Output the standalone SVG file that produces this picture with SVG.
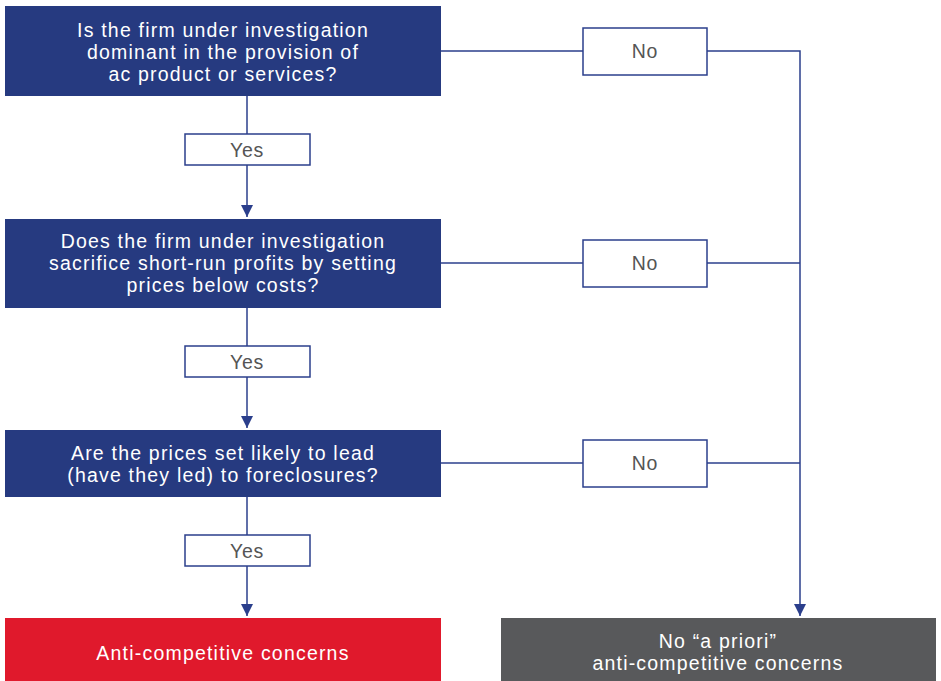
<svg xmlns="http://www.w3.org/2000/svg" width="941" height="681" viewBox="0 0 941 681">
  <defs>
    <marker id="arrow" viewBox="0 0 10 10" refX="10" refY="5" markerWidth="12" markerHeight="12" markerUnits="userSpaceOnUse" orient="auto">
      <path d="M0,0 L10,5 L0,10 z" fill="#2b3f8c"/>
    </marker>
    <style>
      .q { fill: #263a80; }
      .qt { fill: #ffffff; font-family: "Liberation Sans", Arial, sans-serif; font-size: 19.5px; letter-spacing: 1.2px; text-anchor: middle; }
      .lab { fill: #ffffff; stroke: #2b3f8c; stroke-width: 1.5; }
      .labt { fill: #555555; font-family: "Liberation Sans", Arial, sans-serif; font-size: 19.5px; letter-spacing: 0.8px; text-anchor: middle; }
      .ln { fill: none; stroke: #2b3f8c; stroke-width: 1.5; }
    </style>
  </defs>
  <rect width="941" height="681" fill="#ffffff"/>

  <g id="connectors">
    <line class="ln" x1="247" y1="96" x2="247" y2="217" marker-end="url(#arrow)"/>
    <line class="ln" x1="247" y1="308" x2="247" y2="428" marker-end="url(#arrow)"/>
    <line class="ln" x1="247" y1="497" x2="247" y2="616" marker-end="url(#arrow)"/>
    <polyline class="ln" points="441,51 800,51 800,616" marker-end="url(#arrow)"/>
    <line class="ln" x1="441" y1="263" x2="800" y2="263"/>
    <line class="ln" x1="441" y1="463" x2="800" y2="463"/>
  </g>

  <g id="q1">
    <rect class="q" x="5" y="6" width="436" height="90"/>
    <text class="qt" x="223" y="37">Is the firm under investigation</text>
    <text class="qt" x="223" y="59">dominant in the provision of</text>
    <text class="qt" x="223" y="81">ac product or services?</text>
  </g>
  <g id="q2">
    <rect class="q" x="5" y="219" width="436" height="89"/>
    <text class="qt" x="223" y="248">Does the firm under investigation</text>
    <text class="qt" x="223" y="270">sacrifice short-run profits by setting</text>
    <text class="qt" x="223" y="292">prices below costs?</text>
  </g>
  <g id="q3">
    <rect class="q" x="5" y="430" width="436" height="67"/>
    <text class="qt" x="223" y="460">Are the prices set likely to lead</text>
    <text class="qt" x="223" y="482">(have they led) to foreclosures?</text>
  </g>

  <g id="yes1">
    <rect class="lab" x="185" y="134" width="125" height="31"/>
    <text class="labt" x="247" y="157">Yes</text>
  </g>
  <g id="yes2">
    <rect class="lab" x="185" y="346" width="125" height="31"/>
    <text class="labt" x="247" y="369">Yes</text>
  </g>
  <g id="yes3">
    <rect class="lab" x="185" y="535" width="125" height="31"/>
    <text class="labt" x="247" y="558">Yes</text>
  </g>

  <g id="no1">
    <rect class="lab" x="583" y="28" width="124" height="47"/>
    <text class="labt" x="645" y="58">No</text>
  </g>
  <g id="no2">
    <rect class="lab" x="583" y="240" width="124" height="47"/>
    <text class="labt" x="645" y="270">No</text>
  </g>
  <g id="no3">
    <rect class="lab" x="583" y="440" width="124" height="47"/>
    <text class="labt" x="645" y="470">No</text>
  </g>

  <g id="concerns">
    <rect x="5" y="618" width="436" height="63" fill="#e0192c"/>
    <text class="qt" x="223" y="660">Anti-competitive concerns</text>
  </g>
  <g id="no-concerns">
    <rect x="501" y="618" width="435" height="63" fill="#58595b"/>
    <text class="qt" x="718" y="648">No “a priori”</text>
    <text class="qt" x="718" y="670">anti-competitive concerns</text>
  </g>
</svg>
